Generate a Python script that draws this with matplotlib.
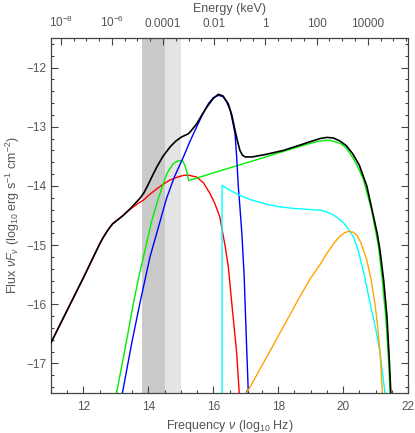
import matplotlib
matplotlib.use("Agg")
import matplotlib.pyplot as plt
from matplotlib.ticker import MultipleLocator, FixedLocator, FixedFormatter

plt.rcParams['font.family'] = ['Liberation Sans', 'DejaVu Sans']
plt.rcParams['mathtext.fontset'] = 'custom'
plt.rcParams['mathtext.rm'] = 'Liberation Sans'
plt.rcParams['mathtext.it'] = 'Liberation Sans:italic'
plt.rcParams['mathtext.sf'] = 'Liberation Sans'

# ---------------- data (log10 nu [Hz], log10 nuFnu) ----------------
black_nu = [11.0, 11.5, 12.0, 12.5, 12.6, 12.7, 12.8, 12.9, 13.2, 13.45, 13.74, 13.87,
            14.0, 14.15, 14.26, 14.45, 14.67, 14.85, 15.03, 15.15, 15.23, 15.3, 15.49,
            15.65, 15.8, 16.0, 16.16, 16.3, 16.46, 16.57, 16.67, 16.75, 16.82, 16.9,
            16.98, 17.2, 17.6, 18.16, 18.67, 19.0, 19.29, 19.5, 19.7, 19.9, 20.1, 20.3,
            20.5, 20.73, 20.93, 21.05, 21.14, 21.25, 21.35, 21.42, 21.47]
black_F = [-16.65, -16.1, -15.55, -14.98, -14.88, -14.79, -14.71, -14.64, -14.51, -14.38,
           -14.21, -14.11, -13.97, -13.80, -13.68, -13.50, -13.34, -13.24, -13.17, -13.14,
           -13.12, -13.08, -12.95, -12.80, -12.67, -12.52, -12.45, -12.48, -12.61, -12.80,
           -13.06, -13.25, -13.40, -13.48, -13.51, -13.51, -13.47, -13.40, -13.31, -13.25,
           -13.20, -13.18, -13.19, -13.24, -13.32, -13.46, -13.65, -14.0, -14.5, -14.8,
           -15.1, -15.6, -16.2, -16.9, -17.5]

red_nu = [11.0, 11.5, 12.0, 12.5, 12.6, 12.7, 12.8, 12.9, 13.2, 13.45, 13.7, 13.85,
          14.05, 14.26, 14.46, 14.67, 14.9, 15.1, 15.25, 15.49, 15.7, 15.9, 16.05, 16.2,
          16.36, 16.46, 16.57, 16.72, 16.8]
red_F = [-16.65, -16.1, -15.55, -14.98, -14.88, -14.79, -14.71, -14.64, -14.51, -14.39,
         -14.29, -14.24, -14.14, -14.05, -13.97, -13.90, -13.85, -13.82, -13.82, -13.85,
         -13.95, -14.13, -14.3, -14.52, -15.0, -15.35, -15.98, -16.82, -17.5]

green_nu = [13.02, 13.3, 13.54, 13.7, 13.9, 14.1, 14.31, 14.45, 14.57, 14.77, 14.9,
            14.98, 15.06, 15.13, 15.2, 15.24, 15.6, 16.0, 16.72, 17.5, 18.2, 18.8,
            19.2, 19.45, 19.6, 19.91, 20.1, 20.32, 20.5, 20.63, 20.88, 21.09, 21.2,
            21.32, 21.4, 21.45]
green_F = [-17.5, -16.7, -15.98, -15.55, -15.08, -14.6, -14.21, -13.98, -13.79, -13.62,
           -13.58, -13.57, -13.58, -13.66, -13.80, -13.91, -13.85, -13.78, -13.66, -13.53,
           -13.41, -13.31, -13.25, -13.23, -13.23, -13.28, -13.36, -13.54, -13.73, -13.90,
           -14.41, -15.02, -15.55, -16.25, -16.95, -17.5]

blue_nu = [13.2, 13.5, 13.74, 14.05, 14.36, 14.56, 14.8, 15.08, 15.28, 15.49, 15.68,
           15.85, 16.0, 16.16, 16.3, 16.41, 16.52, 16.6, 16.67, 16.72, 16.77, 16.82,
           16.88, 16.95, 17.02, 17.08]
blue_F = [-17.5, -16.62, -15.98, -15.2, -14.6, -14.21, -13.85, -13.51, -13.25, -13.0,
          -12.78, -12.61, -12.51, -12.47, -12.49, -12.58, -12.72, -12.92, -13.12, -13.5,
          -14.0, -14.35, -14.8, -15.5, -16.6, -17.5]

cyan_nu = [16.27, 16.27, 16.5, 16.72, 16.82, 17.13, 17.65, 18.0, 18.47, 19.0, 19.29,
           19.5, 19.7, 19.85, 20.01, 20.15, 20.32, 20.47, 20.65, 20.83, 21.0, 21.14, 21.29]
cyan_F = [-17.5, -13.99, -14.07, -14.13, -14.16, -14.23, -14.31, -14.35, -14.38, -14.40,
          -14.41, -14.44, -14.49, -14.55, -14.62, -14.72, -14.86, -15.1, -15.5, -15.98,
          -16.4, -16.82, -17.5]

orange_nu = [17.03, 17.75, 18.2, 18.67, 19.0, 19.29, 19.5, 19.7, 19.9, 20.05, 20.16,
             20.3, 20.42, 20.55, 20.73, 20.85, 20.98, 21.06, 21.14, 21.21]
orange_F = [-17.5, -16.79, -16.34, -15.87, -15.56, -15.33, -15.14, -14.98, -14.85, -14.79,
            -14.77, -14.78, -14.83, -14.96, -15.25, -15.55, -15.98, -16.35, -16.82, -17.5]

dark_band = [13.8, 14.5]
light_band = [14.5, 15.0]

energy_ticks = [-8, -6, -4, -2, 0, 2, 4]
energy_labels = [r'$10^{-8}$', r'$10^{-6}$', '0.0001', '0.01', '1', '100', '10000']
energy_lim = [-8.38, 5.57]

# ---------------- figure ----------------
txt = '#555555'
fig = plt.figure(figsize=(4.15, 4.33), dpi=100)
ax = fig.add_axes([51/415, 1-393/433, 357/415, 355/433])

ax.axvspan(*dark_band, color='#cacaca', lw=0, zorder=0)
ax.axvspan(*light_band, color='#e4e4e4', lw=0, zorder=0)

ax.plot(red_nu, red_F, color='#ff0000', lw=1.0, zorder=2)
ax.plot(green_nu, green_F, color='#00ee00', lw=1.0, zorder=2)
ax.plot(blue_nu, blue_F, color='#0000ff', lw=1.0, zorder=2)
ax.plot(cyan_nu, cyan_F, color='#00ffff', lw=1.0, zorder=2)
ax.plot(orange_nu, orange_F, color='#ffa500', lw=1.0, zorder=2)
ax.plot(black_nu, black_F, color='black', lw=1.2, zorder=3)

ax.set_xlim(11, 22)
ax.set_ylim(-17.5, -11.5)
ax.xaxis.set_major_locator(MultipleLocator(2))
ax.xaxis.set_minor_locator(MultipleLocator(0.5))
ax.yaxis.set_major_locator(MultipleLocator(1))
ax.yaxis.set_minor_locator(MultipleLocator(0.2))
ax.yaxis.set_major_formatter(plt.FuncFormatter(lambda v, p: '\u2212%d' % abs(round(v)) if v < 0 else '%d' % v))
ax.tick_params(which='both', direction='in', colors='#444444', labelcolor=txt,
               labelsize=8.5, top=False, right=True)
ax.tick_params(which='major', length=5, width=0.8)
ax.tick_params(which='minor', length=2.5, width=0.8)
ax.tick_params(axis='x', which='major', pad=6)
for s in ax.spines.values():
    s.set_color('#444444')
    s.set_linewidth(0.9)

ax.set_xlabel(r'Frequency $\nu$ (log$_{10}$ Hz)', fontsize=9, color=txt, labelpad=3)
ax.set_ylabel(r'Flux $\nu F_\nu$ (log$_{10}$ erg s$^{-1}$ cm$^{-2}$)', fontsize=9,
              color=txt, labelpad=3)

ax2 = ax.twiny()
ax2.set_xlim(*energy_lim)
ax2.xaxis.set_major_locator(FixedLocator(energy_ticks))
ax2.xaxis.set_major_formatter(FixedFormatter(energy_labels))
ax2.xaxis.set_minor_locator(MultipleLocator(0.5))
ax2.tick_params(which='both', direction='in', colors='#444444', labelcolor=txt,
                labelsize=8.5)
ax2.tick_params(which='major', length=5, width=0.8, pad=5.5)
ax2.tick_params(which='minor', length=2.5, width=0.8)
for s in ax2.spines.values():
    s.set_visible(False)
ax2.set_xlabel('Energy (keV)', fontsize=9, color=txt, labelpad=2)

fig.savefig('out.png', dpi=100)
